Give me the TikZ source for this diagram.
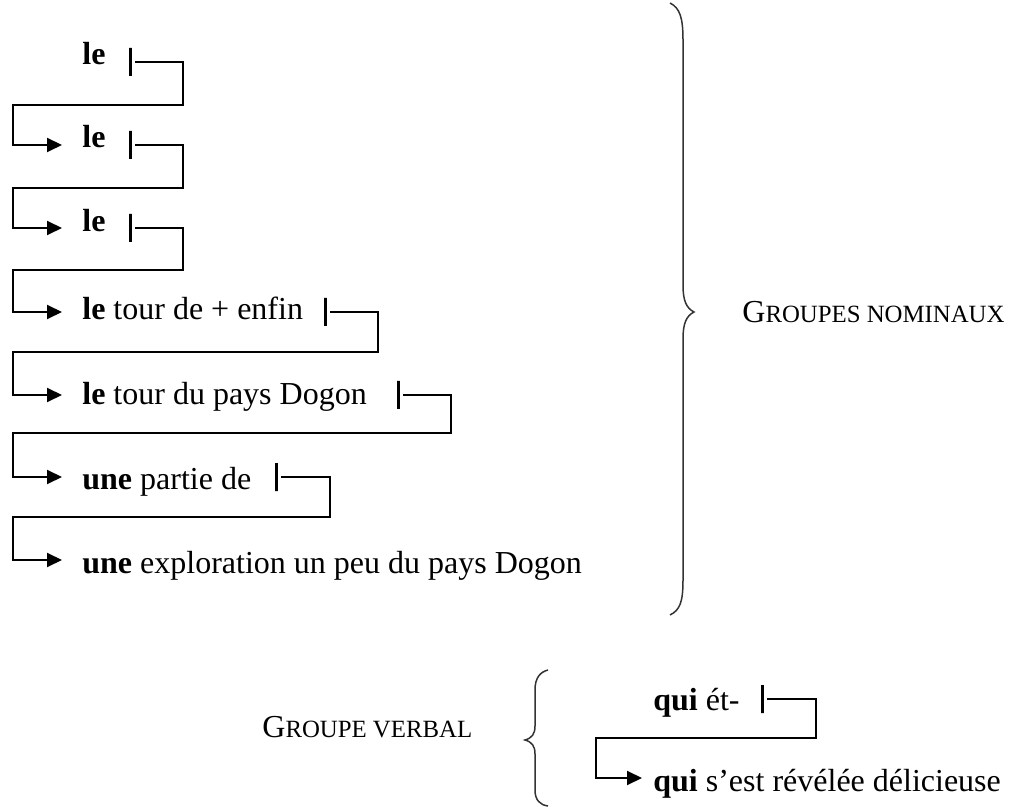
\documentclass[tikz,border=0pt]{standalone}
\usepackage{fontspec}
\setmainfont{Liberation Serif}
\usepackage{tikz}
\usetikzlibrary{arrows.meta, positioning, calc}

% fake small capitals (the font has none)
\newcommand{\smc}[1]{{\fontsize{12.4pt}{14pt}\selectfont #1}}

\begin{document}
\begin{tikzpicture}[
    x=0.5pt, y=-0.5pt,
    phrase/.style={anchor=west, inner sep=0pt, font=\fontsize{16pt}{19pt}\selectfont, text height=#1, text depth=0pt},
    tag/.style={anchor=base west, inner sep=0pt, font=\fontsize{16pt}{19pt}\selectfont},
    stopbar/.style={draw, line width=1.5pt, minimum width=0pt, minimum height=14pt, inner sep=0pt, outer sep=2.5pt},
    link/.style={line width=1pt, -{Triangle[length=7.5pt, width=7pt]}},
    brace/.style={line width=0.75pt, black!80}
]
\useasboundingbox (0,0) rectangle (1017,807);

% groupes nominaux
\node[phrase=3pt] (r1) at (82,62) {\textbf{le}};
\node[phrase=3pt] (r2) at (82,145) {\textbf{le}};
\node[phrase=4pt] (r3) at (82,228) {\textbf{le}};
\node[phrase=8pt] (r4) at (82,312) {\textbf{le} tour de + enfin};
\node[phrase=10pt] (r5) at (82,395) {\textbf{le} tour du pays Dogon};
\node[phrase=12pt] (r6) at (82,477) {\textbf{une} partie de};
\node[phrase=13pt] (r7) at (82,560) {\textbf{une} exploration un peu du pays Dogon};

\node[stopbar] (b1) at (130,62) {};
\node[stopbar] (b2) at (130,145) {};
\node[stopbar] (b3) at (130,228) {};
\node[stopbar] (b4) at (325,312) {};
\node[stopbar] (b5) at (398,395) {};
\node[stopbar] (b6) at (276,477) {};

\draw[link] (b1.east) -- ++(48,0) -- ++(0,43) -| ($(r2.west)+(-69,0)$) -- ($(r2.west)+(-20,0)$);
\draw[link] (b2.east) -- ++(48,0) -- ++(0,43) -| ($(r3.west)+(-69,0)$) -- ($(r3.west)+(-20,0)$);
\draw[link] (b3.east) -- ++(48,0) -- ++(0,42) -| ($(r4.west)+(-69,0)$) -- ($(r4.west)+(-20,0)$);
\draw[link] (b4.east) -- ++(48,0) -- ++(0,40) -| ($(r5.west)+(-69,0)$) -- ($(r5.west)+(-20,0)$);
\draw[link] (b5.east) -- ++(48,0) -- ++(0,38) -| ($(r6.west)+(-69,0)$) -- ($(r6.west)+(-20,0)$);
\draw[link] (b6.east) -- ++(49,0) -- ++(0,40) -| ($(r7.west)+(-69,0)$) -- ($(r7.west)+(-20,0)$);

\draw[brace] (670,3) .. controls (680,8) and (683,18) .. (683,40) -- (683,285)
    .. controls (683,300) and (686,308) .. (694,312)
    .. controls (686,316) and (683,324) .. (683,339) -- (683,580)
    .. controls (683,602) and (680,610) .. (670,615);
\node[tag] (gn) at (742,323) {G\smc{ROUPES NOMINAUX}};

% groupe verbal
\node[tag] (gv) at (262,737) {G\smc{ROUPE VERBAL}};
\draw[brace] (548,670) .. controls (540,672) and (535,678) .. (535,690) -- (535,726)
    .. controls (535,734) and (532,738) .. (525,740)
    .. controls (532,742) and (535,746) .. (535,754) -- (535,790)
    .. controls (535,800) and (540,805) .. (548,806);

\node[phrase=11pt] (q1) at (653,699) {\textbf{qui} ét-};
\node[phrase=13pt] (q2) at (653,778) {\textbf{qui} s’est révélée délicieuse};
\node[stopbar] (bq) at (762,699) {};
\draw[link] (bq.east) -- ++(49,0) -- ++(0,39) -| ($(q2.west)+(-57,0)$) -- ($(q2.west)+(-11,0)$);
\end{tikzpicture}
\end{document}
